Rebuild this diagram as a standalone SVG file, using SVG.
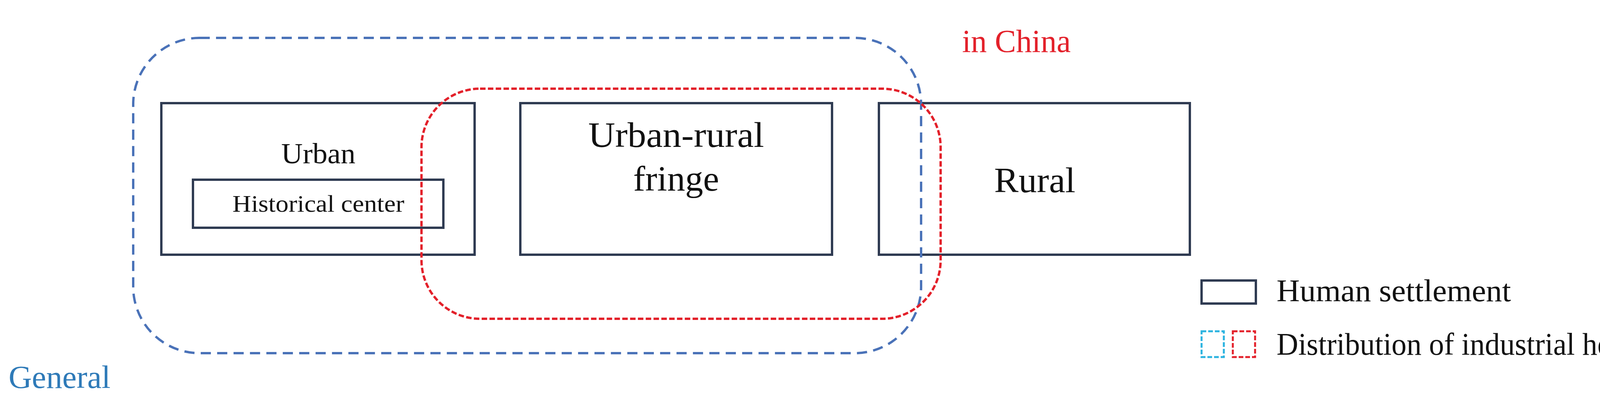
<svg xmlns="http://www.w3.org/2000/svg" width="4349" height="1006" viewBox="0 0 4349 1006">
<style>
.box{fill:none;stroke:#2f3b52;stroke-width:6}
.t{font-family:"Liberation Serif",serif;fill:#111;text-anchor:middle}
.l{font-family:"Liberation Serif",serif;fill:#111}
.blue{fill:none;stroke:#4a72b8;stroke-width:6;stroke-dasharray:26 16}
.red{fill:none;stroke:#e3202a;stroke-width:6;stroke-dasharray:14 6}
</style>
<rect width="4349" height="1006" fill="#fff"/>
<g id="urban"><rect class="box" x="413" y="264" width="802" height="388"/><text class="t" x="815" y="418" font-size="74" textLength="190" lengthAdjust="spacingAndGlyphs">Urban</text></g>
<g id="historical"><rect class="box" x="494" y="460" width="641" height="123"/><text class="t" x="815" y="542" font-size="62" textLength="440" lengthAdjust="spacingAndGlyphs">Historical center</text></g>
<g id="fringe"><rect class="box" x="1332" y="264" width="798" height="388"/><text class="t" x="1731" y="376" font-size="90" textLength="450" lengthAdjust="spacingAndGlyphs">Urban-rural</text><text class="t" x="1731" y="488" font-size="90" textLength="220" lengthAdjust="spacingAndGlyphs">fringe</text></g>
<g id="rural"><rect class="box" x="2250" y="264" width="796" height="388"/><text class="t" x="2649" y="492" font-size="90" textLength="208" lengthAdjust="spacingAndGlyphs">Rural</text></g>
<g id="connectors">
<rect id="general" class="blue" x="341" y="97" width="2017" height="807" rx="170"/>
<rect id="china" class="red" x="1079" y="227" width="1329" height="589" rx="150"/>
</g>
<text x="2463" y="133" font-family="Liberation Serif,serif" font-size="82" fill="#e3202a" textLength="278" lengthAdjust="spacingAndGlyphs">in China</text>
<text x="22" y="993" font-family="Liberation Serif,serif" font-size="82" fill="#2e7ab8" textLength="261" lengthAdjust="spacingAndGlyphs">General</text>
<g id="legend">
<rect class="box" x="3076" y="718" width="139" height="59"/>
<text class="l" x="3268" y="771" font-size="80" textLength="600" lengthAdjust="spacingAndGlyphs">Human settlement</text>
<rect x="3076" y="848" width="57" height="66" fill="none" stroke="#2bb3e0" stroke-width="5" stroke-dasharray="12 5"/>
<rect x="3156" y="848" width="57" height="66" fill="none" stroke="#e3202a" stroke-width="5" stroke-dasharray="12 5"/>
<text class="l" x="3268" y="908" font-size="80" textLength="1030" lengthAdjust="spacingAndGlyphs">Distribution of industrial heritage</text>
</g>
</svg>
